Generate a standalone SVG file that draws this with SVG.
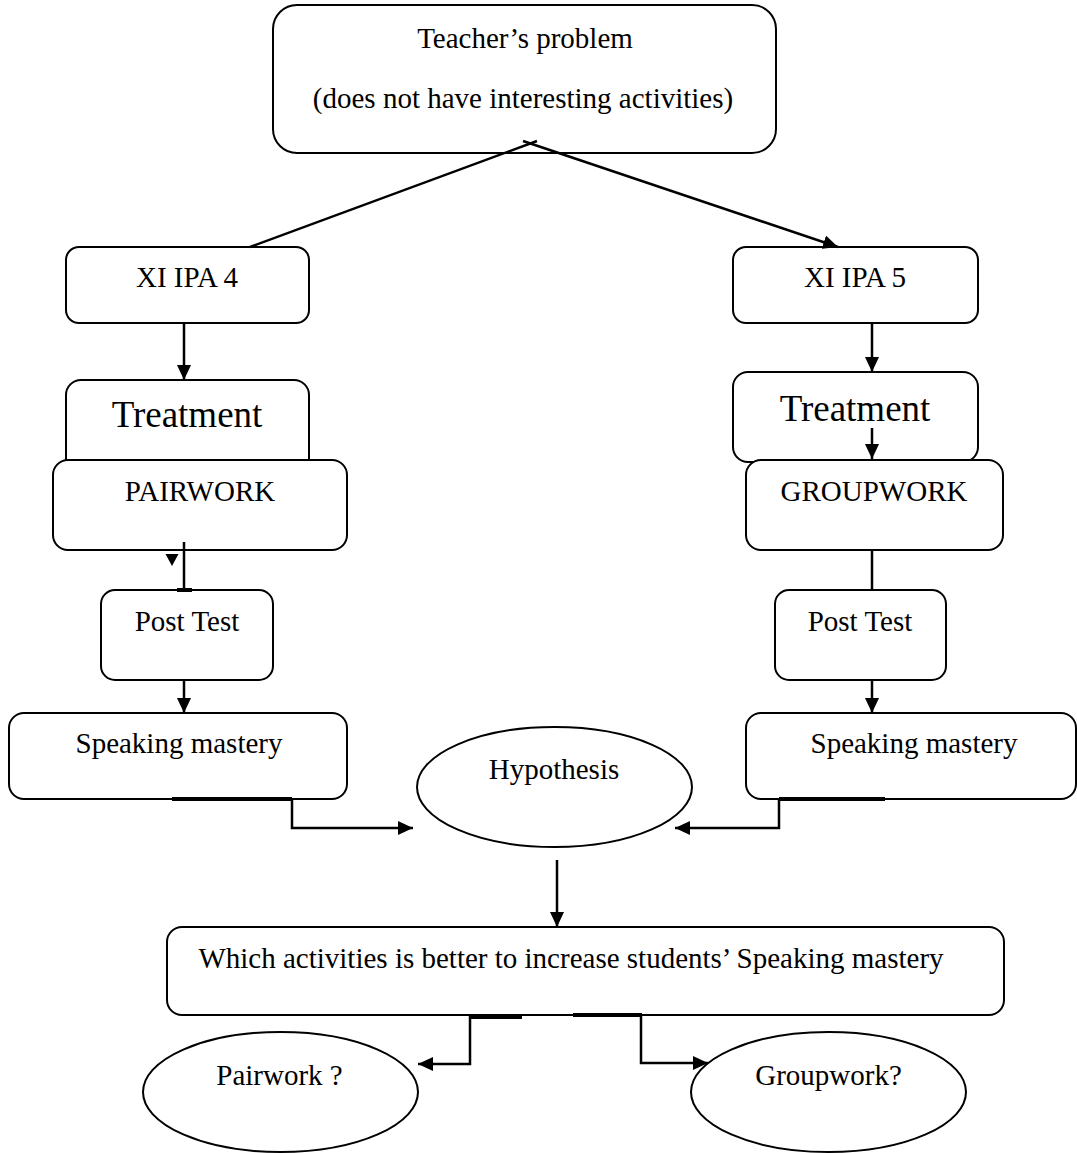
<svg xmlns="http://www.w3.org/2000/svg" width="1077" height="1153" viewBox="0 0 1077 1153">
<style>
.box{fill:#fff;stroke:#000;stroke-width:2}
.t{font-family:"Liberation Serif","Times New Roman",serif;font-size:29px;fill:#000;text-anchor:middle}
.big{font-size:37px}
.c{fill:none;stroke:#000;stroke-width:2.5}
.thick{fill:none;stroke:#000;stroke-width:4}
</style>
<defs>
<marker id="ah" markerUnits="userSpaceOnUse" markerWidth="16" markerHeight="14" refX="15" refY="7" orient="auto">
<path d="M0,0 L15,7 L0,14 z" fill="#000"/>
</marker>
</defs>
<rect width="1077" height="1153" fill="#fff"/>

<g id="teacher">
<rect class="box" x="273" y="5" width="503" height="148" rx="24"/>
<text class="t" x="525" y="48">Teacher’s problem</text>
<text class="t" x="523" y="108">(does not have interesting activities)</text>
</g>

<g id="ipa4">
<rect class="box" x="66" y="247" width="243" height="76" rx="13"/>
<text class="t" x="187" y="287">XI IPA 4</text>
</g>
<g id="ipa5">
<rect class="box" x="733" y="247" width="245" height="76" rx="13"/>
<text class="t" x="855" y="287">XI IPA 5</text>
</g>

<g id="treat4">
<rect class="box" x="66" y="380" width="243" height="95" rx="15"/>
<text class="t big" x="187" y="427">Treatment</text>
</g>
<g id="treat5">
<rect class="box" x="733" y="372" width="245" height="90" rx="15"/>
<text class="t big" x="855" y="421">Treatment</text>
</g>

<g id="pairwork">
<rect class="box" x="53" y="460" width="294" height="90" rx="15"/>
<text class="t" x="200" y="501">PAIRWORK</text>
</g>
<g id="groupwork">
<rect class="box" x="746" y="460" width="257" height="90" rx="15"/>
<text class="t" x="874" y="501">GROUPWORK</text>
</g>

<g id="post4">
<rect class="box" x="101" y="590" width="172" height="90" rx="14"/>
<text class="t" x="187" y="631">Post Test</text>
</g>
<g id="post5">
<rect class="box" x="775" y="590" width="171" height="90" rx="14"/>
<text class="t" x="860" y="631">Post Test</text>
</g>

<g id="speak4">
<rect class="box" x="9" y="713" width="338" height="86" rx="15"/>
<text class="t" x="179" y="753">Speaking mastery</text>
</g>
<g id="speak5">
<rect class="box" x="746" y="713" width="330" height="86" rx="15"/>
<text class="t" x="914" y="753">Speaking mastery</text>
</g>

<g id="hypothesis">
<ellipse class="box" cx="554.5" cy="787" rx="137.5" ry="60"/>
<text class="t" x="554" y="779">Hypothesis</text>
</g>

<g id="question">
<rect class="box" x="167" y="927" width="837" height="88" rx="15"/>
<text class="t" x="571" y="968">Which activities is better to increase students’ Speaking mastery</text>
</g>

<g id="pair-q">
<ellipse class="box" cx="280.5" cy="1092" rx="137.5" ry="60"/>
<text class="t" x="279.5" y="1085">Pairwork ?</text>
</g>
<g id="group-q">
<ellipse class="box" cx="828.5" cy="1092" rx="137.5" ry="60"/>
<text class="t" x="828.5" y="1085">Groupwork?</text>
</g>

<g id="connectors">
<line class="c" x1="537" y1="141" x2="250" y2="247"/>
<line class="c" x1="523" y1="141" x2="838" y2="247" marker-end="url(#ah)"/>

<line class="c" x1="184" y1="323" x2="184" y2="380" marker-end="url(#ah)"/>
<line class="c" x1="872" y1="323" x2="872" y2="372" marker-end="url(#ah)"/>
<line class="c" x1="872" y1="428" x2="872" y2="459" marker-end="url(#ah)"/>

<line class="c" x1="184" y1="542" x2="184" y2="590"/>
<path d="M165.5,554 L178.5,554 L172,566 z" fill="#000"/>
<line class="thick" x1="177" y1="590" x2="192" y2="590"/>
<line class="c" x1="872" y1="550" x2="872" y2="590"/>

<line class="c" x1="184" y1="680" x2="184" y2="713" marker-end="url(#ah)"/>
<line class="c" x1="872" y1="680" x2="872" y2="713" marker-end="url(#ah)"/>

<line class="thick" x1="172" y1="799" x2="292" y2="799"/>
<polyline class="c" points="292,799 292,828 413,828" marker-end="url(#ah)"/>
<line class="thick" x1="779" y1="799" x2="885" y2="799"/>
<polyline class="c" points="779,799 779,828 675,828" marker-end="url(#ah)"/>

<line class="c" x1="557" y1="860" x2="557" y2="927" marker-end="url(#ah)"/>

<line class="thick" x1="470" y1="1017" x2="522" y2="1017"/>
<line class="thick" x1="573" y1="1015" x2="642" y2="1015"/>
<polyline class="c" points="470,1015 470,1064 418,1064" marker-end="url(#ah)"/>
<polyline class="c" points="641,1015 641,1063 708,1063" marker-end="url(#ah)"/>
</g>
</svg>
